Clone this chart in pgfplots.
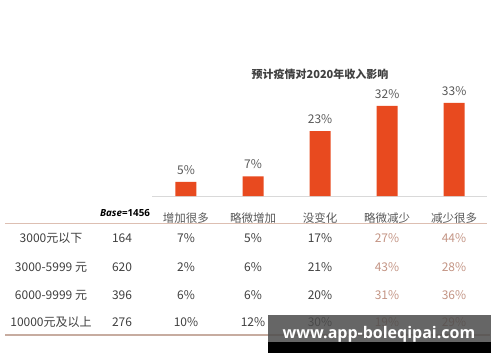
\documentclass[border=0pt]{standalone}
\usepackage{fontspec}
\setmainfont{Noto Sans CJK SC}
\newfontfamily\lat{Open Sans}
\usepackage{pgfplots}
\pgfplotsset{compat=1.18}
\definecolor{barc}{HTML}{E84A1F}
\definecolor{txt}{HTML}{404040}
\definecolor{lbl}{HTML}{595959}
\definecolor{warm}{HTML}{C49585}
\definecolor{rule}{HTML}{DDBFB2}
\begin{document}
\begin{tikzpicture}[x=1pt,y=-1pt]
\path[use as bounding box,fill=white] (0,0) rectangle (500,362);
\begin{axis}[
  at={(152pt,-196pt)}, anchor=south west,
  scale only axis, width=335pt, height=98.7pt,
  xmin=-0.507, xmax=4.49, ymin=0, ymax=35,
  axis x line=bottom, axis y line=none,
  x axis line style={-,draw=black!15,line width=0.8pt},
  xtick=data, xtick style={draw=none},
  xticklabels={增加很多,略微增加,没变化,略微减少,减少很多},
  xticklabel style={anchor=center,yshift=-18pt,text=lbl,font=\fontsize{11.5}{13}\selectfont},
  /pgf/number format/assume math mode=true,
  ybar, bar width=21pt,
  nodes near coords={\pgfmathprintnumber{\pgfplotspointmeta}\%},
  nodes near coords style={anchor=south,yshift=4pt,text=lbl,font=\fontsize{12}{14}\selectfont},
  clip=false,
]
\addplot[fill=barc,draw=none] coordinates {(0,5) (1,7) (2,23) (3,32) (4,33)};
\end{axis}
\node[font=\fontsize{11}{13}\selectfont\bfseries,text=txt] at (320,74) {预计疫情对2020年收入影响};
\node[font=\lat\fontsize{9.8}{11}\selectfont\bfseries,text=black] at (125,213) {\textit{Base}=1456};
\draw[rule,line width=0.9pt] (5,223) -- (487,223);
\draw[rule!90!black,line width=1.6pt] (5,335) -- (490,335);
\foreach \ry/\lab/\base/\a/\b/\c/\d/\e in {
  238/3000元以下/164/7/5/17/27/44,
  267/3000-5999 元/620/2/6/21/43/28,
  295/6000-9999 元/396/6/6/20/31/36,
  322/10000元及以上/276/10/12/30/19/29}{
  \begin{scope}[every node/.style={font=\fontsize{12}{14}\selectfont,text=txt}]
  \node at (51,\ry) {\lab};
  \node at (122,\ry) {\base};
  \node at (186,\ry) {\a\%};
  \node at (253,\ry) {\b\%};
  \node at (320,\ry) {\c\%};
  \node[text=warm] at (387,\ry) {\d\%};
  \node[text=warm] at (454,\ry) {\e\%};
  \end{scope}
}
\fill[black!70,opacity=0.85] (268,315) rectangle (491,342);
\fill[black] (268,342) rectangle (491,353);
\node[font=\lat\fontsize{16}{18}\selectfont\bfseries,text=white] at (379,334) {www.app-boleqipai.com};
\end{tikzpicture}
\end{document}
